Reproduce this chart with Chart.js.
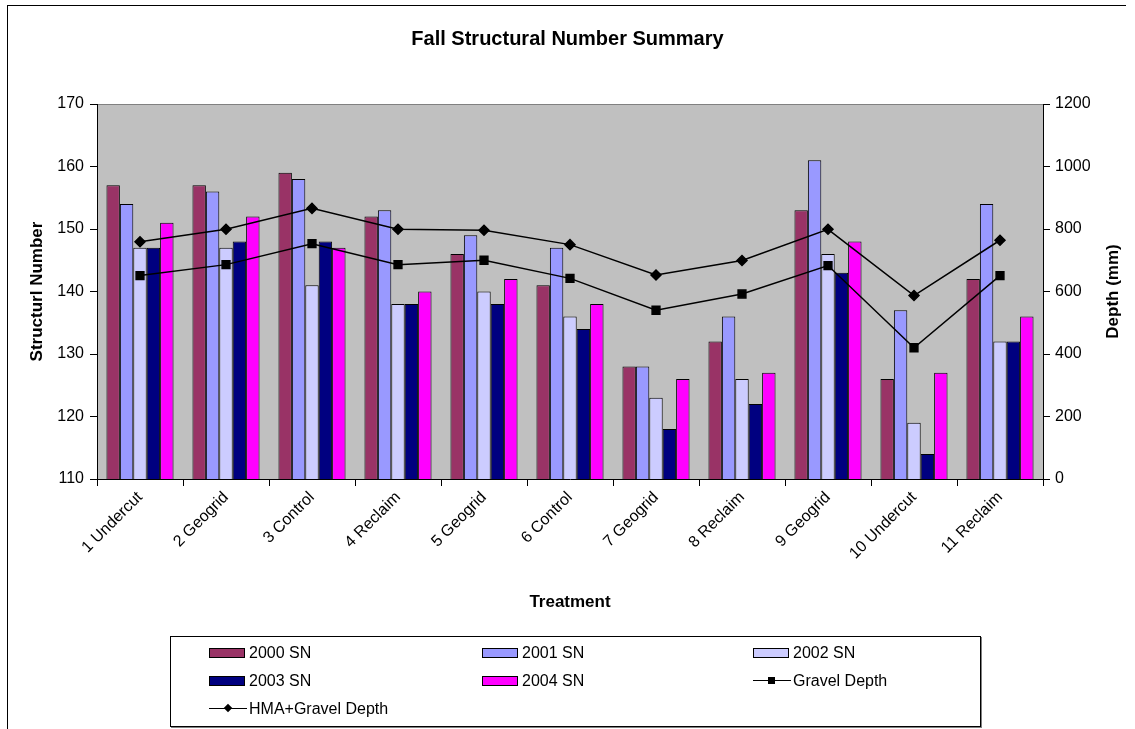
<!DOCTYPE html>
<html>
<head>
<meta charset="utf-8">
<script src="https://cdn.jsdelivr.net/npm/chart.js@4.4.0/dist/chart.umd.min.js"></script>
<style>
  body { margin: 0; background: #fff; font-family: "Liberation Sans", Arial, sans-serif; }
  #wrap { position: relative; width: 1135px; height: 729px; overflow: hidden; }
  #frame { position: absolute; left: 7px; top: 5px; width: 1118px; height: 740px;
           border-left: 1px solid #000; border-top: 1px solid #000; }
  #chartCanvas { position: absolute; left: 0; top: 0; }
  #legend { position: absolute; left: 170px; top: 636px; width: 809px; height: 89px;
            border: 1px solid #000; box-shadow: 1px 1px 0 #808080; background: #fff; }
  .item { position: absolute; font-size: 16px; line-height: 18px; white-space: nowrap; color: #000; }
  .swatch { display: inline-block; width: 34px; height: 8px; border: 1px solid #000;
            vertical-align: middle; margin-right: 4px; position: relative; top: -1px; }
  .lineKey { display: inline-block; width: 38px; height: 1px; background: #000;
             vertical-align: middle; margin-right: 2px; position: relative; top: -1px; }
  .lineKey span { position: absolute; left: 15px; top: -3px; width: 7px; height: 7px; background: #000; }
  .lineKey span.diamond { transform: rotate(45deg); left: 16px; top: -3px; width: 6px; height: 6px; }
</style>
</head>
<body>
<div id="wrap">
  <canvas id="chartCanvas" width="1135" height="729"></canvas>
  <div id="frame"></div>
  <div id="legend"></div>
</div>
<script>
  const categories = [
    "1 Undercut", "2 Geogrid", "3 Control", "4 Reclaim", "5 Geogrid", "6 Control",
    "7 Geogrid", "8 Reclaim", "9 Geogrid", "10 Undercut", "11 Reclaim",
  ];
  const sn2000 = [157, 157, 159, 152, 146, 141, 128, 132, 153, 126, 142];
  const sn2001 = [154, 156, 158, 153, 149, 147, 128, 136, 161, 137, 154];
  const sn2002 = [147, 147, 141, 138, 140, 136, 123, 126, 146, 119, 132];
  const sn2003 = [147, 148, 148, 138, 138, 134, 118, 122, 143, 114, 132];
  const sn2004 = [151, 152, 147, 140, 142, 138, 126, 127, 148, 127, 136];
  const gravelDepth = [651, 686, 753, 686, 700, 642, 540, 592, 683, 420, 651];
  const hmaGravelDepth = [759, 799, 866, 799, 796, 750, 653, 699, 799, 587, 764];

  const font = "'Liberation Sans', Arial, sans-serif";

  const barSeries = [
    { label: "2000 SN", data: sn2000, color: "#993366" },
    { label: "2001 SN", data: sn2001, color: "#9999FF" },
    { label: "2002 SN", data: sn2002, color: "#CCCCFF" },
    { label: "2003 SN", data: sn2003, color: "#000080" },
    { label: "2004 SN", data: sn2004, color: "#FF00FF" },
  ];

  const datasets = barSeries.map((s) => ({
    type: "bar",
    label: s.label,
    data: s.data,
    yAxisID: "y",
    backgroundColor: s.color,
    borderColor: "#000",
    borderWidth: 1,
    categoryPercentage: 0.78,
    barPercentage: 1.0,
    order: 2,
  }));

  datasets.push({
    type: "line",
    label: "Gravel Depth",
    data: gravelDepth,
    yAxisID: "y1",
    borderColor: "#000",
    borderWidth: 1.5,
    pointStyle: "rect",
    pointRadius: 5.5,
    pointBackgroundColor: "#000",
    pointBorderColor: "#000",
    tension: 0,
    order: 1,
  });
  datasets.push({
    type: "line",
    label: "HMA+Gravel Depth",
    data: hmaGravelDepth,
    yAxisID: "y1",
    borderColor: "#000",
    borderWidth: 1.5,
    pointStyle: "rectRot",
    pointRadius: 5,
    pointBackgroundColor: "#000",
    pointBorderColor: "#000",
    tension: 0,
    order: 1,
  });

  // gray plot area + right axis title (reads bottom to top)
  const plotDecor = {
    id: "plotDecor",
    beforeDraw(chart) {
      const { ctx, chartArea: a } = chart;
      ctx.save();
      ctx.fillStyle = "#C0C0C0";
      ctx.fillRect(a.left, a.top, a.right - a.left, a.bottom - a.top);
      ctx.strokeStyle = "#808080";
      ctx.lineWidth = 1;
      ctx.beginPath();
      ctx.moveTo(a.left, a.top + 0.5);
      ctx.lineTo(a.right, a.top + 0.5);
      ctx.stroke();
      ctx.restore();
    },
    afterDraw(chart) {
      const { ctx, chartArea: a } = chart;
      ctx.save();
      ctx.translate(1113, (a.top + a.bottom) / 2);
      ctx.rotate(-Math.PI / 2);
      ctx.font = "bold 17px " + font;
      ctx.fillStyle = "#000";
      ctx.textAlign = "center";
      ctx.textBaseline = "middle";
      ctx.fillText("Depth (mm)", 0, 0);
      ctx.restore();
    },
  };

  const tickFont = { family: font, size: 16 };
  const axisGrid = { drawOnChartArea: false, tickLength: 7, color: "#000" };

  new Chart(document.getElementById("chartCanvas").getContext("2d"), {
    data: { labels: categories, datasets: datasets },
    plugins: [plotDecor],
    options: {
      responsive: false,
      animation: false,
      layout: { padding: { left: 0, right: 0, top: 0, bottom: 99 } },
      plugins: {
        legend: { display: false },
        tooltip: { enabled: false },
        title: {
          display: true,
          text: "Fall Structural Number Summary",
          color: "#000",
          font: { family: font, size: 20, weight: "bold" },
          padding: { top: 27, bottom: 53 },
        },
      },
      scales: {
        x: {
          grid: { ...axisGrid, offset: true },
          border: { color: "#000", width: 1 },
          ticks: { color: "#000", font: tickFont, minRotation: 45, maxRotation: 45, padding: 2 },
          title: {
            display: true,
            text: "Treatment",
            color: "#000",
            font: { family: font, size: 17, weight: "bold" },
            padding: { top: 0, bottom: 17 },
          },
          afterFit: (s) => { s.height = 151; },
        },
        y: {
          position: "left",
          min: 110,
          max: 170,
          grid: axisGrid,
          border: { color: "#000", width: 1 },
          ticks: { stepSize: 10, color: "#000", font: tickFont, padding: 6 },
          title: {
            display: true,
            text: "Structurl Number",
            color: "#000",
            font: { family: font, size: 17, weight: "bold" },
            padding: { top: 27, bottom: 0 },
          },
          afterFit: (s) => { s.width = 97; },
        },
        y1: {
          position: "right",
          min: 0,
          max: 1200,
          grid: axisGrid,
          border: { color: "#000", width: 1 },
          ticks: { stepSize: 200, color: "#000", font: tickFont, padding: 5,
                   callback: (v) => String(v) },
          afterFit: (s) => { s.width = 92; },
        },
      },
    },
  });

  // legend: 3 columns, built from the same series
  const legend = document.getElementById("legend");
  const legendItems = barSeries.map((s) => ({ label: s.label, color: s.color }));
  legendItems.push({ label: "Gravel Depth", marker: "square" });
  legendItems.push({ label: "HMA+Gravel Depth", marker: "diamond" });
  const colX = [38, 311, 582];
  const rowY = [7, 35, 63];
  legendItems.forEach((it, i) => {
    const el = document.createElement("div");
    el.className = "item";
    el.style.left = colX[i % 3] + "px";
    el.style.top = rowY[Math.floor(i / 3)] + "px";
    if (it.marker) {
      el.innerHTML = `<span class="lineKey"><span class="${it.marker}"></span></span>${it.label}`;
    } else {
      el.innerHTML = `<span class="swatch" style="background:${it.color}"></span>${it.label}`;
    }
    legend.appendChild(el);
  });
</script>
</body>
</html>
